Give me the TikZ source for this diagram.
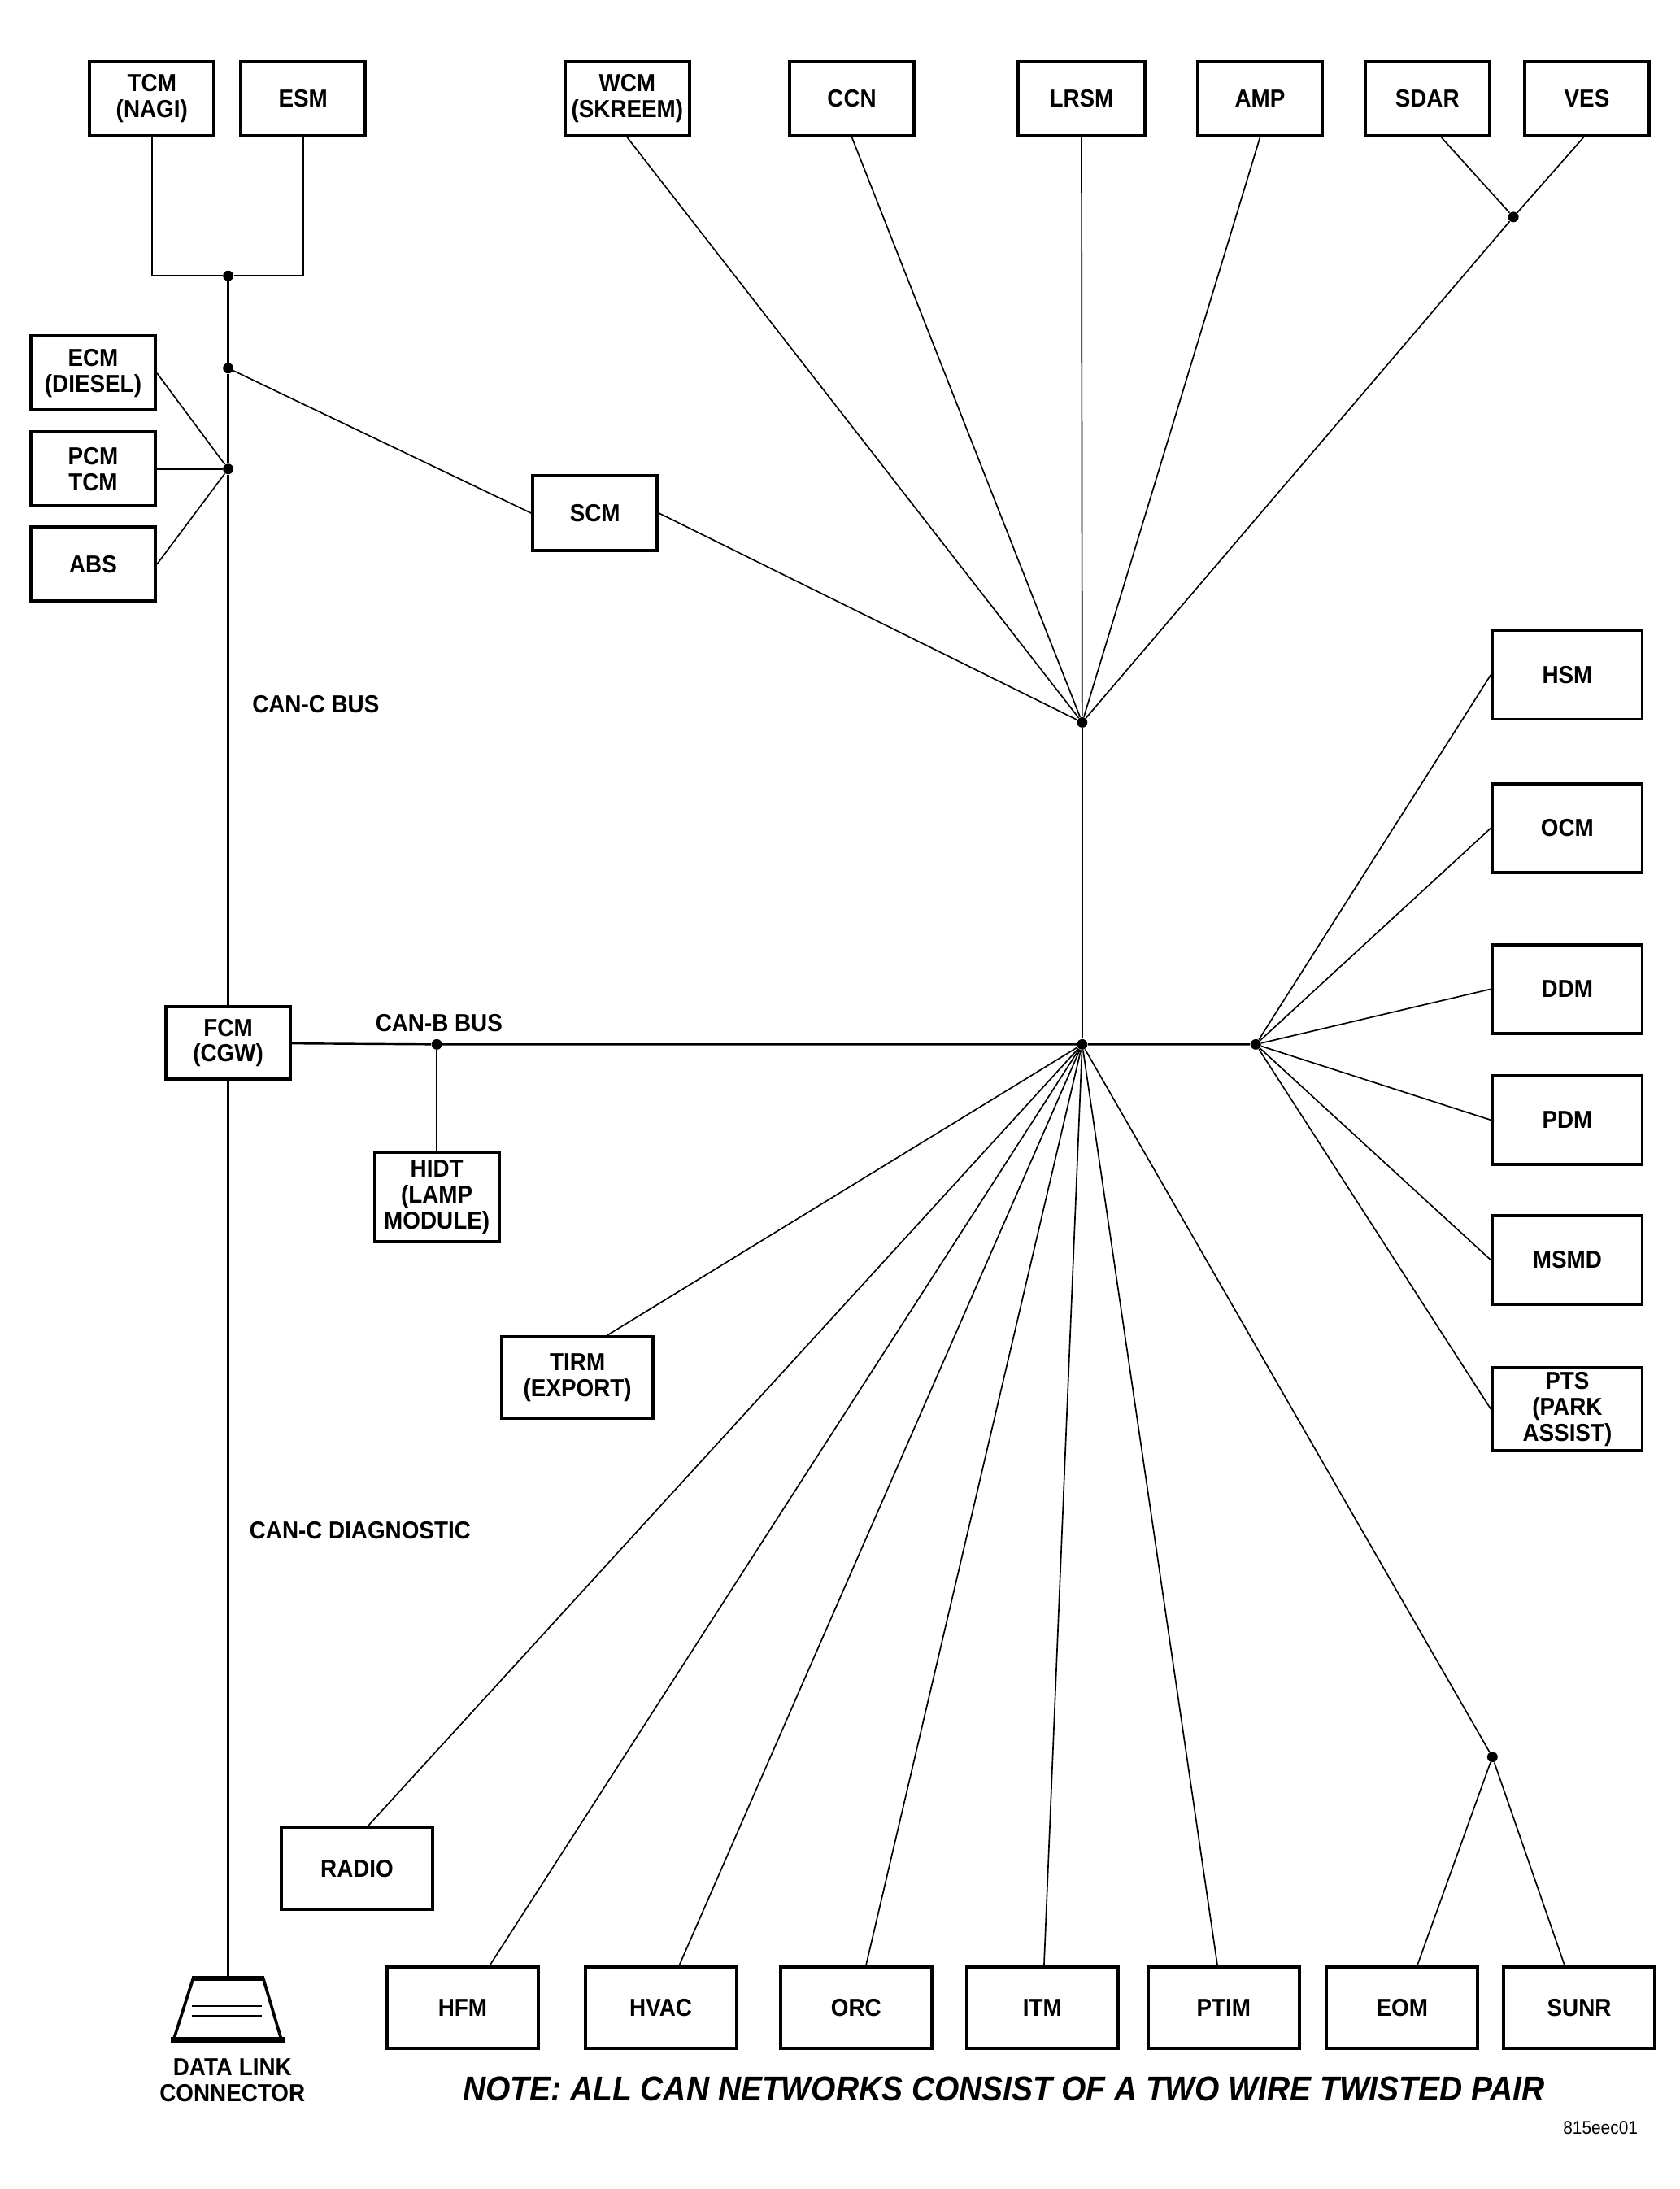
\documentclass[tikz,border=0pt]{standalone}
\usepackage{fontspec}
\newfontfamily\labelfont{Liberation Sans}[FakeStretch=0.92]
\begin{document}
\begin{tikzpicture}[x=0.02cm, y=-0.02cm,
	module/.style={draw, line width=1.3pt, align=center, inner sep=1pt, font=\labelfont\bfseries\fontsize{10}{10.5}\selectfont, minimum width=1.78cm, minimum height=1.06cm},
	tallbox/.style={minimum width=2.14cm, minimum height=1.27cm},
	lowbox/.style={minimum width=2.16cm, minimum height=1.16cm},
	dot/.style={circle, fill, inner sep=0pt, minimum size=0.15cm},
	bus/.style={line width=0.8pt},
	wire/.style={line width=0.55pt},
	buslabel/.style={anchor=west, font=\labelfont\bfseries\fontsize{10}{10.5}\selectfont}]
	\useasboundingbox (0,0) rectangle (1200,1563.6);

	\node[module] (tcm) at (108.5,70.5) {TCM\\(NAGI)};
	\node[module] (esm) at (216.5,70.5) {ESM};
	\node[module] (wcm) at (448,70.5) {WCM\\(SKREEM)};
	\node[module] (ccn) at (608.5,70.5) {CCN};
	\node[module, minimum width=1.82cm] (lrsm) at (772.5,70.5) {LRSM};
	\node[module] (amp) at (900,70.5) {AMP};
	\node[module] (sdar) at (1019.5,70.5) {SDAR};
	\node[module] (ves) at (1133.5,70.5) {VES};
	\node[module] (ecm) at (66.5,266.5) {ECM\\(DIESEL)};
	\node[module] (pcm) at (66.5,335) {PCM\\TCM};
	\node[module] (abs) at (66.5,403) {ABS};
	\node[module] (scm) at (425,366.5) {SCM};
	\node[module, tallbox] (hsm) at (1119.5,482) {HSM};
	\node[module, tallbox] (ocm) at (1119.5,591.5) {OCM};
	\node[module, tallbox] (ddm) at (1119.5,706.5) {DDM};
	\node[module, tallbox] (pdm) at (1119.5,800) {PDM};
	\node[module, tallbox] (msmd) at (1119.5,900) {MSMD};
	\node[module, tallbox, minimum height=1.18cm] (pts) at (1119.5,1006.5) {PTS\\(PARK\\ASSIST)};
	\node[module, minimum height=1.04cm] (fcm) at (163,745) {FCM\\(CGW)};
	\node[module, minimum height=1.28cm] (hidt) at (312,855) {HIDT\\(LAMP\\MODULE)};
	\node[module, lowbox] (tirm) at (412.5,984) {TIRM\\(EXPORT)};
	\node[module, lowbox, minimum height=1.18cm] (radio) at (255,1334.5) {RADIO};
	\node[module, lowbox] (hfm) at (330.5,1434) {HFM};
	\node[module, lowbox] (hvac) at (472,1434) {HVAC};
	\node[module, lowbox] (orc) at (611.5,1434) {ORC};
	\node[module, lowbox] (itm) at (744.5,1434) {ITM};
	\node[module, lowbox] (ptim) at (874,1434) {PTIM};
	\node[module, lowbox] (eom) at (1001.5,1434) {EOM};
	\node[module, lowbox] (sunr) at (1128,1434) {SUNR};

	\node[dot] (tcmjoin) at (163,197) {};
	\node[dot] (scmjoin) at (163,263) {};
	\node[dot] (pcmjoin) at (163,335) {};
	\node[dot] (vesjoin) at (1081,155) {};
	\node[dot] (tophub) at (773,516) {};
	\node[dot] (midhub) at (773,746) {};
	\node[dot] (righthub) at (897,746) {};
	\node[dot] (hidtjoin) at (312,746) {};
	\node[dot] (eomjoin) at (1066,1255) {};
	\coordinate (dlc) at (163,1413);

	\draw[bus] (tcm.south) |- (tcmjoin) -| (esm.south);
	\draw[bus] (tcmjoin) -- (scmjoin) -- (pcmjoin) -- (fcm);
	\draw[bus] (fcm) -- (dlc);
	\draw[wire] (ecm.east) -- (pcmjoin);
	\draw[wire] (pcm.east) -- (pcmjoin);
	\draw[wire] (abs.east) -- (pcmjoin);
	\draw[wire] (scmjoin) -- (scm.west);
	\draw[wire] (scm.east) -- (tophub);
	\draw[wire] (wcm.south) -- (tophub);
	\draw[wire] (ccn.south) -- (tophub);
	\draw[wire] (lrsm.south) -- (tophub);
	\draw[wire] (amp.south) -- (tophub);
	\draw[wire] (sdar.-70) -- (vesjoin);
	\draw[wire] (ves.-95) -- (vesjoin);
	\draw[wire] (vesjoin) -- (tophub);
	\draw[bus] (tophub) -- (midhub);
	\draw[bus] (fcm) -- (hidtjoin) -- (midhub) -- (righthub);
	\draw[bus] (hidtjoin) -- (hidt);
	\draw[wire] (righthub) -- (hsm.west);
	\draw[wire] (righthub) -- (ocm.west);
	\draw[wire] (righthub) -- (ddm.west);
	\draw[wire] (righthub) -- (pdm.west);
	\draw[wire] (righthub) -- (msmd.west);
	\draw[wire] (righthub) -- (pts.west);
	\draw[wire] (midhub) -- (tirm.55);
	\draw[wire] (midhub) -- (radio.75);
	\draw[wire] (midhub) -- (hfm);
	\draw[wire] (midhub) -- (hvac);
	\draw[wire] (midhub) -- (orc);
	\draw[wire] (midhub) -- (itm);
	\draw[wire] (midhub) -- (ptim);
	\draw[wire] (midhub) -- (eomjoin);
	\draw[wire] (eomjoin) -- (eom);
	\draw[wire] (eomjoin) -- (sunr);

	\draw[line width=2pt] (137,1413) -- (189,1413);
	\draw[line width=1.2pt] (138,1413) -- (124,1457) (188,1413) -- (201,1457);
	\draw[line width=2pt] (122,1457) -- (203,1457);
	\draw[wire] (137,1433) -- (187,1433) (137,1440) -- (187,1440);

	\node[buslabel] (canc) at (174,503) {CAN-C BUS};
	\node[buslabel] (canb) at (262,731) {CAN-B BUS};
	\node[buslabel] (diag) at (172,1093) {CAN-C DIAGNOSTIC};
	\node[align=center, font=\labelfont\bfseries\fontsize{10}{10.5}\selectfont] (dlclabel) at (166,1486) {DATA LINK\\CONNECTOR};
	\node[font=\labelfont\bfseries\itshape\fontsize{14}{16}\selectfont] (note) at (717,1492) {NOTE: ALL CAN NETWORKS CONSIST OF A TWO WIRE TWISTED PAIR};
	\node[anchor=east, font=\labelfont\fontsize{7.5}{9}\selectfont] (figid) at (1176,1520) {815eec01};
\end{tikzpicture}
\end{document}
